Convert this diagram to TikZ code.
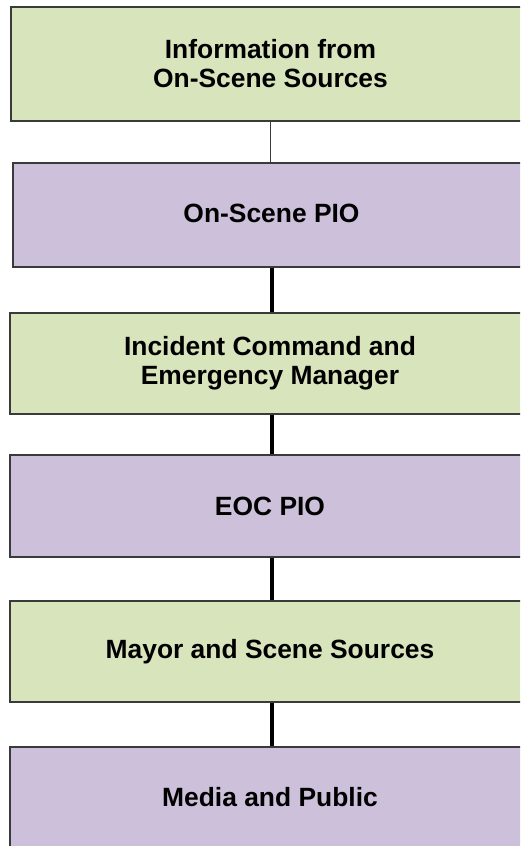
\documentclass[tikz,border=0pt]{standalone}
\usepackage{fontspec}
\setmainfont{Liberation Sans}
\definecolor{boxgreen}{HTML}{D8E4BC}
\definecolor{boxpurple}{HTML}{CCC0DA}
\definecolor{edge}{HTML}{3A3A3A}
\begin{document}
\begin{tikzpicture}[x=1pt,y=-1pt,
  box/.style={draw=edge, line width=1.3pt, rectangle, inner sep=0pt, align=center,
    font=\fontsize{26.4}{29}\selectfont\bfseries},
  gbox/.style={box, fill=boxgreen},
  pbox/.style={box, fill=boxpurple},
  thin link/.style={draw=edge, line width=1.3pt},
  thick link/.style={draw=black, line width=4.5pt}]
\useasboundingbox (0,0) rectangle (520,846);
\clip (0,0) rectangle (520,846);
\node[gbox, minimum width=519pt, minimum height=114pt] (a) at (270.5,64) {Information from\\On-Scene Sources};
\node[pbox, minimum width=517pt, minimum height=104pt] (b) at (271.5,215) {\raisebox{3pt}{On-Scene PIO}};
\node[gbox, minimum width=520pt, minimum height=101pt] (c) at (270,363.5) {Incident Command and\\Emergency Manager};
\node[pbox, minimum width=520pt, minimum height=102pt] (d) at (270,506) {EOC PIO};
\node[gbox, minimum width=520pt, minimum height=101pt] (e) at (270,651.5) {Mayor and Scene Sources};
\node[pbox, minimum width=520pt, minimum height=100pt] (f) at (270,797) {Media and Public};
\draw[thin link] (a.south) -- (a.south |- b.north);
\draw[thick link] ([xshift=0.5pt]b.south) -- ++(0,16) -- ([xshift=2pt]c.north);
\draw[thick link] ([xshift=2pt]c.south) -- ([xshift=2pt]d.north);
\draw[thick link] ([xshift=2pt]d.south) -- ([xshift=2pt]e.north);
\draw[thick link] ([xshift=2pt]e.south) -- ([xshift=2pt]f.north);
\end{tikzpicture}
\end{document}
